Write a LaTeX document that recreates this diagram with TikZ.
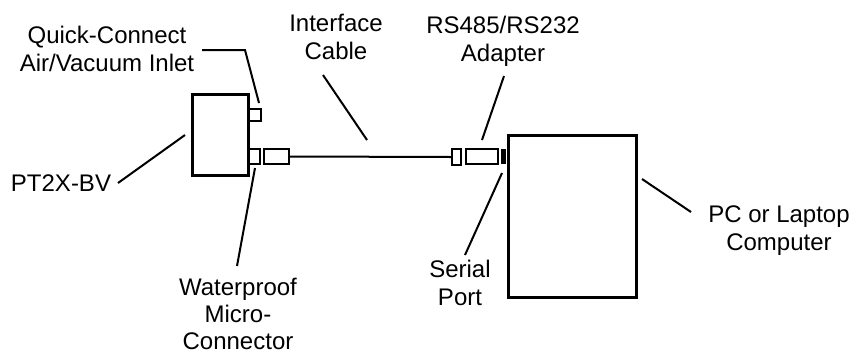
\documentclass[tikz,border=0pt]{standalone}
\usepackage{fontspec}
\setmainfont{Liberation Sans}
\begin{document}
\begin{tikzpicture}[x=1pt,y=-1pt,
  lbl/.style={align=center,inner sep=0pt,font=\fontsize{24}{28}\selectfont},
  bigbox/.style={draw,line width=3pt,inner sep=0pt},
  smallbox/.style={draw,line width=2pt,inner sep=0pt},
  leader/.style={line width=2pt},
  cable/.style={line width=2pt}]
\useasboundingbox (0,0) rectangle (854,354);
% devices
\node[bigbox,minimum width=56pt,minimum height=81pt] (pt) at (220,134.5) {};
\node[smallbox,minimum width=12pt,minimum height=12pt,anchor=west] (qc) at (248,115) {};
\node[smallbox,minimum width=11pt,minimum height=15pt,anchor=west] (mc) at (248,156.5) {};
\node[smallbox,minimum width=25pt,minimum height=15pt,anchor=west] (plug) at (263,156.5) {};
\node[smallbox,minimum width=9pt,minimum height=16pt] (sc) at (456.5,157) {};
\node[smallbox,minimum width=32pt,minimum height=15pt] (ad) at (482,156.5) {};
\node[bigbox,minimum width=128pt,minimum height=162pt] (pc) at (572,216) {};
\node[fill,inner sep=0pt,minimum width=5pt,minimum height=15pt,anchor=east] (sp) at (pc.west |- ad.east) {};
\draw[cable] (plug.east) -- (sc.west);
% labels
\node[lbl] (tqc) at (107,49) {Quick-Connect\\Air/Vacuum Inlet};
\node[lbl] (tic) at (336,37) {Interface\\Cable};
\node[lbl] (tad) at (503,41) {RS485/RS232\\Adapter};
\node[lbl] (tpt) at (61,183) {PT2X-BV};
\node[lbl,font=\fontsize{24}{27}\selectfont] (twm) at (238,314) {Waterproof\\Micro-\\Connector};
\node[lbl] (tsp) at (460,283) {Serial\\Port};
\node[lbl] (tpc) at (779,231) {PC or Laptop\\Computer};
% leader ends
\coordinate (qc0) at (202,50);
\coordinate (qc1) at (245,50);
\coordinate (qc2) at (259,103);
\coordinate (ic0) at (323,75);
\coordinate (ic1) at (367,140);
\coordinate (ad0) at (504,76);
\coordinate (ad1) at (482,140);
\coordinate (pt0) at (118,183);
\coordinate (pt1) at (185,135);
\coordinate (wm0) at (255,168);
\coordinate (wm1) at (237,266);
\coordinate (sp0) at (502,173);
\coordinate (sp1) at (465,255);
\coordinate (pc0) at (642,179);
\coordinate (pc1) at (691,212);
\draw[leader] (qc0) -- (qc1) -- (qc2);
\draw[leader] (ic0) -- (ic1);
\draw[leader] (ad0) -- (ad1);
\draw[leader] (pt0) -- (pt1);
\draw[leader] (wm0) -- (wm1);
\draw[leader] (sp0) -- (sp1);
\draw[leader] (pc0) -- (pc1);
\end{tikzpicture}
\end{document}
